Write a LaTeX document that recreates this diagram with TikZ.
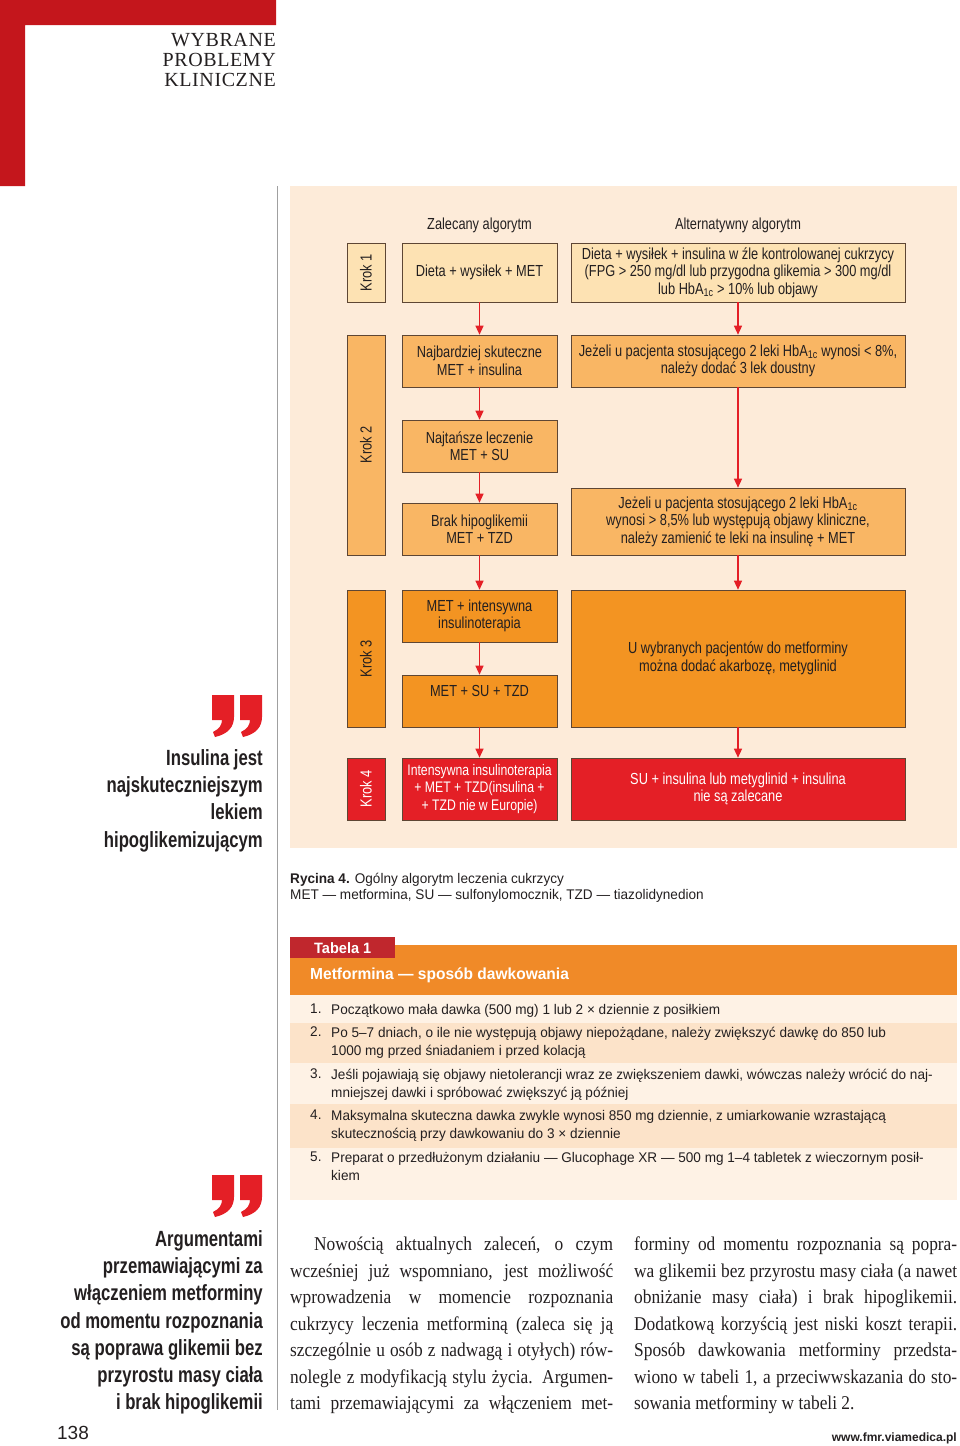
\documentclass[tikz,border=0pt]{standalone}
\usepackage{fontspec}
\setmainfont{Liberation Serif}
\setsansfont{Liberation Sans}
\newfontfamily\condfont[FakeStretch=0.8]{Liberation Sans}
\newfontfamily\quotefont[FakeStretch=0.76]{Liberation Sans}
\newfontfamily\tabfont[FakeStretch=0.97]{Liberation Sans}
\newfontfamily\bodyfont[FakeStretch=0.89]{Liberation Serif}
\newfontfamily\headfont[LetterSpace=3]{Liberation Serif}
\usetikzlibrary{arrows.meta,positioning}
\definecolor{pagered}{HTML}{C4161C}
\definecolor{figbg}{HTML}{FDEBD9}
\definecolor{stepa}{HTML}{FDE2B3}
\definecolor{stepb}{HTML}{F9B664}
\definecolor{stepc}{HTML}{F39422}
\definecolor{stepd}{HTML}{E41F26}
\definecolor{boxline}{HTML}{5E4634}
\definecolor{ink}{HTML}{231F20}
\definecolor{tabtab}{HTML}{C0272D}
\definecolor{tabhead}{HTML}{F08A28}
\definecolor{rowlight}{HTML}{FEF2E5}
\definecolor{rowdark}{HTML}{FCE3C9}
\definecolor{rulegray}{HTML}{A0A0A0}
\newcommand{\hbaic}{HbA\textsubscript{1c}}
% red quote mark, #1/#2 = top left corner
\newcommand{\quotemark}[2]{%
  \fill[stepd] (#1,#2) -- ({#1+22},#2) -- ({#1+22},{#2+22})
    .. controls ({#1+22},{#2+32}) and ({#1+16},{#2+39}) .. ({#1+3},{#2+42})
    -- ({#1+1},{#2+37}) .. controls ({#1+7},{#2+34}) and ({#1+10},{#2+30}) .. ({#1+10},{#2+25})
    -- (#1,{#2+25}) -- cycle;}

\begin{document}
\begin{tikzpicture}[x=1pt,y=-1pt,
  flowbox/.style={draw=boxline,line width=0.6pt,text=ink,align=center,inner sep=2pt,
    font=\condfont\fontsize{16}{17.5}\selectfont},
  krokbox/.style={flowbox,rotate=90,minimum height=38},
  zalbox/.style={flowbox,minimum width=155},
  altbox/.style={flowbox,minimum width=334},
  flowarrow/.style={stepd,line width=1.2pt,-{Triangle[width=8pt,length=9pt]}},
  pulltext/.style={anchor=north east,align=right,inner sep=0,text=ink,
    font=\quotefont\bfseries\fontsize{22}{27.3}\selectfont},
  tabrow/.style={anchor=north west,align=left,inner sep=0,text=ink,
    font=\tabfont\fontsize{14}{18}\selectfont},
  bodycol/.style={anchor=north west,text width=323,align=justify,inner sep=0,text=ink,
    font=\bodyfont\fontsize{19.5}{26.5}\selectfont}]
  \useasboundingbox (0,0) rectangle (960,1446);

  % page frame
  \fill[pagered] (0,0) -- (276,0) -- (276,25) -- (25,25) -- (25,186) -- (0,186) -- cycle;
  \node[anchor=north east,align=right,inner sep=0,text=ink,
    font=\headfont\fontsize{20}{20}\selectfont] (section) at (276,33) {WYBRANE\\PROBLEMY\\KLINICZNE};
  \draw[rulegray,line width=0.8pt] (277,186) -- (277,1410);

  % figure
  \fill[figbg] (290,186) rectangle (957,848);
  \node[font=\condfont\fontsize{16}{18}\selectfont,text=ink] (hzal) at (479.5,225) {Zalecany algorytm};
  \node[font=\condfont\fontsize{16}{18}\selectfont,text=ink] (halt) at (738,225) {Alternatywny algorytm};

  \node[krokbox,fill=stepa,minimum width=59] (k1) at (366,272.5) {Krok 1};
  \node[krokbox,fill=stepb,minimum width=220] (k2) at (366,445) {Krok 2};
  \node[krokbox,fill=stepc,minimum width=137] (k3) at (366,658.5) {Krok 3};
  \node[krokbox,fill=stepd,text=white,minimum width=62] (k4) at (366,789) {Krok 4};

  \node[zalbox,fill=stepa,minimum height=59] (zal1) at (479.5,272.5) {Dieta + wysiłek + MET};
  \node[zalbox,fill=stepb,minimum height=52] (zal2) at (479.5,361) {Najbardziej skuteczne\\MET + insulina};
  \node[zalbox,fill=stepb,minimum height=52] (zal3) at (479.5,446) {Najtańsze leczenie\\MET + SU};
  \node[zalbox,fill=stepb,minimum height=52] (zal4) at (479.5,529) {Brak hipoglikemii\\MET + TZD};
  \node[zalbox,fill=stepc,minimum height=52] (zal5) at (479.5,616) {MET + intensywna\\insulinoterapia};
  \node[zalbox,fill=stepc,minimum height=52,text depth=20pt] (zal6) at (479.5,701) {MET + SU + TZD};
  \node[zalbox,fill=stepd,text=white,minimum height=62,font=\condfont\fontsize{15.3}{17.2}\selectfont] (zal7) at (479.5,789)
    {Intensywna insulinoterapia\\+ MET + TZD(insulina +\\+ TZD nie w Europie)};

  \node[altbox,fill=stepa,minimum height=59] (alt1) at (738,272.5)
    {Dieta + wysiłek + insulina w źle kontrolowanej cukrzycy\\(FPG > 250 mg/dl lub przygodna glikemia > 300 mg/dl\\lub \hbaic{} > 10\% lub objawy};
  \node[altbox,fill=stepb,minimum height=52] (alt2) at (738,361)
    {Jeżeli u pacjenta stosującego 2 leki \hbaic{} wynosi < 8\%,\\należy dodać 3 lek doustny};
  \node[altbox,fill=stepb,minimum height=67] (alt3) at (738,521.5)
    {Jeżeli u pacjenta stosującego 2 leki \hbaic\\wynosi > 8,5\% lub występują objawy kliniczne,\\należy zamienić te leki na insulinę + MET};
  \node[altbox,fill=stepc,minimum height=137] (alt4) at (738,658.5)
    {U wybranych pacjentów do metforminy\\można dodać akarbozę, metyglinid};
  \node[altbox,fill=stepd,text=white,minimum height=62] (alt5) at (738,789)
    {SU + insulina lub metyglinid + insulina\\nie są zalecane};

  \foreach \a/\b in {zal1/zal2,zal2/zal3,zal3/zal4,zal4/zal5,zal5/zal6,zal6/zal7,
                     alt1/alt2,alt2/alt3,alt3/alt4,alt4/alt5}
    \draw[flowarrow] (\a) -- (\b);

  \node[anchor=north west,align=left,inner sep=0,text=ink,
    font=\tabfont\fontsize{14}{16}\selectfont] (caption) at (290,873)
    {\textbf{Rycina 4.} Ogólny algorytm leczenia cukrzycy\\MET — metformina, SU — sulfonylomocznik, TZD — tiazolidynedion};

  % table
  \fill[tabhead] (290,945) rectangle (957,995);
  \node[fill=tabtab,text=white,anchor=north west,minimum width=105,minimum height=21,inner sep=0,
    font=\tabfont\bfseries\fontsize{15}{16}\selectfont] (tabtag) at (290,937) {Tabela 1};
  \node[anchor=west,text=white,inner sep=0,
    font=\tabfont\bfseries\fontsize{16}{18}\selectfont] (tabtitle) at (310,975) {Metformina — sposób dawkowania};
  \fill[rowlight] (290,995) rectangle (957,1023);
  \fill[rowdark] (290,1023) rectangle (957,1063);
  \fill[rowlight] (290,1063) rectangle (957,1104);
  \fill[rowdark] (290,1104) rectangle (957,1148);
  \fill[rowlight] (290,1148) rectangle (957,1200);
  \node[tabrow] (n1) at (310,1004) {1.};
  \node[tabrow] (row1) at (331,1004) {Początkowo mała dawka (500 mg) 1 lub 2 × dziennie z  posiłkiem};
  \node[tabrow] (n2) at (310,1027) {2.};
  \node[tabrow] (row2) at (331,1027) {Po 5–7 dniach, o ile nie występują objawy niepożądane, należy zwiększyć dawkę do 850 lub\\1000 mg przed śniadaniem i przed kolacją};
  \node[tabrow] (n3) at (310,1069) {3.};
  \node[tabrow] (row3) at (331,1069) {Jeśli pojawiają się objawy nietolerancji wraz ze zwiększeniem dawki, wówczas należy wrócić do naj-\\mniejszej dawki i spróbować zwiększyć ją później};
  \node[tabrow] (n4) at (310,1110) {4.};
  \node[tabrow] (row4) at (331,1110) {Maksymalna skuteczna dawka zwykle wynosi 850 mg dziennie, z umiarkowanie wzrastającą\\skutecznością przy dawkowaniu do 3 × dziennie};
  \node[tabrow] (n5) at (310,1152) {5.};
  \node[tabrow] (row5) at (331,1152) {Preparat o przedłużonym działaniu — Glucophage XR — 500 mg 1–4 tabletek z wieczornym posił-\\kiem};

  % pull quotes
  \quotemark{212}{695}
  \quotemark{240}{695}
  \node[pulltext] (pullone) at (263,749) {Insulina jest\\najskuteczniejszym\\lekiem\\hipoglikemizującym};
  \quotemark{212}{1175}
  \quotemark{240}{1175}
  \node[pulltext] (pulltwo) at (263,1230) {Argumentami\\przemawiającymi za\\włączeniem metforminy\\od momentu rozpoznania\\są poprawa glikemii bez\\przyrostu masy ciała\\i brak hipoglikemii};

  % body text
  \node[bodycol] (colleft) at (290,1237) {\noindent\hspace*{24pt}Nowością aktualnych zaleceń, o czym\linebreak
    wcześniej już wspomniano, jest możliwość\linebreak
    wprowadzenia w momencie rozpoznania\linebreak
    cukrzycy leczenia metforminą (zaleca się ją\linebreak
    szczególnie u osób z nadwagą i otyłych) rów-\linebreak
    nolegle z modyfikacją stylu życia. Argumen-\linebreak
    tami przemawiającymi za włączeniem met-\linebreak};
  \node[bodycol] (colright) at (634,1237) {\noindent forminy od momentu rozpoznania są popra-\linebreak
    wa glikemii bez przyrostu masy ciała (a nawet\linebreak
    obniżanie masy ciała) i brak hipoglikemii.\linebreak
    Dodatkową korzyścią jest niski koszt terapii.\linebreak
    Sposób dawkowania metforminy przedsta-\linebreak
    wiono w tabeli 1, a przeciwwskazania do sto-\linebreak
    sowania metforminy w tabeli 2.};

  \node[font=\sffamily\fontsize{19}{19}\selectfont,text=ink] (pagenum) at (73,1433) {138};
  \node[anchor=east,inner sep=0,text=ink,
    font=\sffamily\bfseries\fontsize{12}{12}\selectfont] (url) at (957,1438) {www.fmr.viamedica.pl};
\end{tikzpicture}
\end{document}
